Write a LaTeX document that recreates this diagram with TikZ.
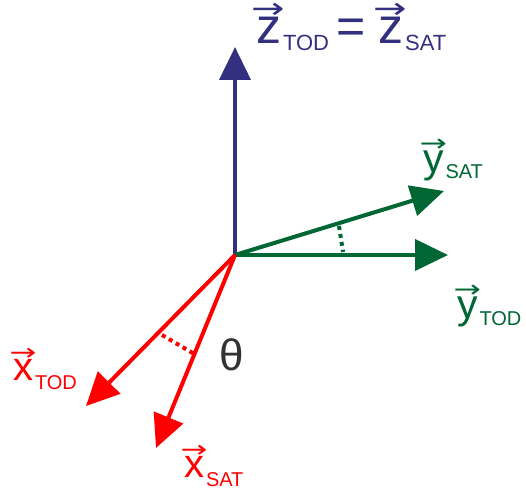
\documentclass[tikz,border=0pt]{standalone}
\usepackage{fontspec}
\usepackage{graphicx}
\setmainfont{Liberation Sans}
\newfontfamily\arrowfont{DejaVu Sans}
\usetikzlibrary{arrows.meta}
\definecolor{zblue}{HTML}{33307F}
\definecolor{ygreen}{HTML}{006633}
\definecolor{xred}{HTML}{FF0000}
\definecolor{thgray}{HTML}{333333}
\newcommand\vecl[1]{\setbox0=\hbox{#1}\rlap{\hbox to\wd0{\hss\raisebox{0.50em}{\scalebox{0.80}[0.58]{\arrowfont →}}\hss}}\box0}
\newcommand\subl[2]{\kern2pt\lower#1\hbox{\fontsize{20}{20}\selectfont #2}}
\begin{document}
\begin{tikzpicture}[x=1pt,y=-1pt,
  vecarrow/.style={line width=4pt,-{Triangle[length=33pt,width=31pt]}},
  dotline/.style={line width=4pt,dash pattern=on 4pt off 4pt},
  lbl/.style={anchor=base west,inner sep=0pt,outer sep=0pt}]
\useasboundingbox (0,0) rectangle (526,492);
\coordinate (O) at (235,255);
\coordinate (zt) at (235,47);
\coordinate (ytod) at (448,255);
\coordinate (ysat) at (444,191);
\coordinate (xtod) at (86,406);
\coordinate (xsat) at (156,448);
\coordinate (gd1) at (339,226);
\coordinate (gd2) at (343,252);
\coordinate (rd1) at (162,335);
\coordinate (rd2) at (196,355);
\draw[dotline,ygreen] (gd1) -- (gd2);
\draw[dotline,xred] (rd1) -- (rd2);
\draw[vecarrow,zblue] (O) -- (zt);
\draw[vecarrow,ygreen] (O) -- (ytod);
\draw[vecarrow,ygreen] (O) -- (ysat);
\draw[vecarrow,xred] (O) -- (xtod);
\draw[vecarrow,xred] (O) -- (xsat);
\node[lbl,text=zblue,font=\fontsize{50}{50}\selectfont] (zlab) at (256,44)
  {\vecl{z}\subl{7pt}{\fontsize{22}{22}\selectfont TOD}\kern7pt=\kern13pt\vecl{z}\subl{7pt}{\fontsize{22}{22}\selectfont SAT}};
\node[lbl,text=ygreen,font=\fontsize{41}{41}\selectfont] (ysatlab) at (423,172) {\vecl{y}\subl{6pt}{SAT}};
\node[lbl,text=ygreen,font=\fontsize{41}{41}\selectfont] (ytodlab) at (457,318) {\vecl{y}\subl{7pt}{TOD}};
\node[lbl,text=xred,font=\fontsize{40}{40}\selectfont] (xtodlab) at (13,380) {\vecl{x}\subl{9pt}{TOD}};
\node[lbl,text=xred,font=\fontsize{40}{40}\selectfont] (xsatlab) at (184,477) {\vecl{x}\subl{9pt}{SAT}};
\node[lbl,text=thgray,font=\fontsize{44}{44}\selectfont] (theta) at (219,370) {θ};
\end{tikzpicture}
\end{document}
